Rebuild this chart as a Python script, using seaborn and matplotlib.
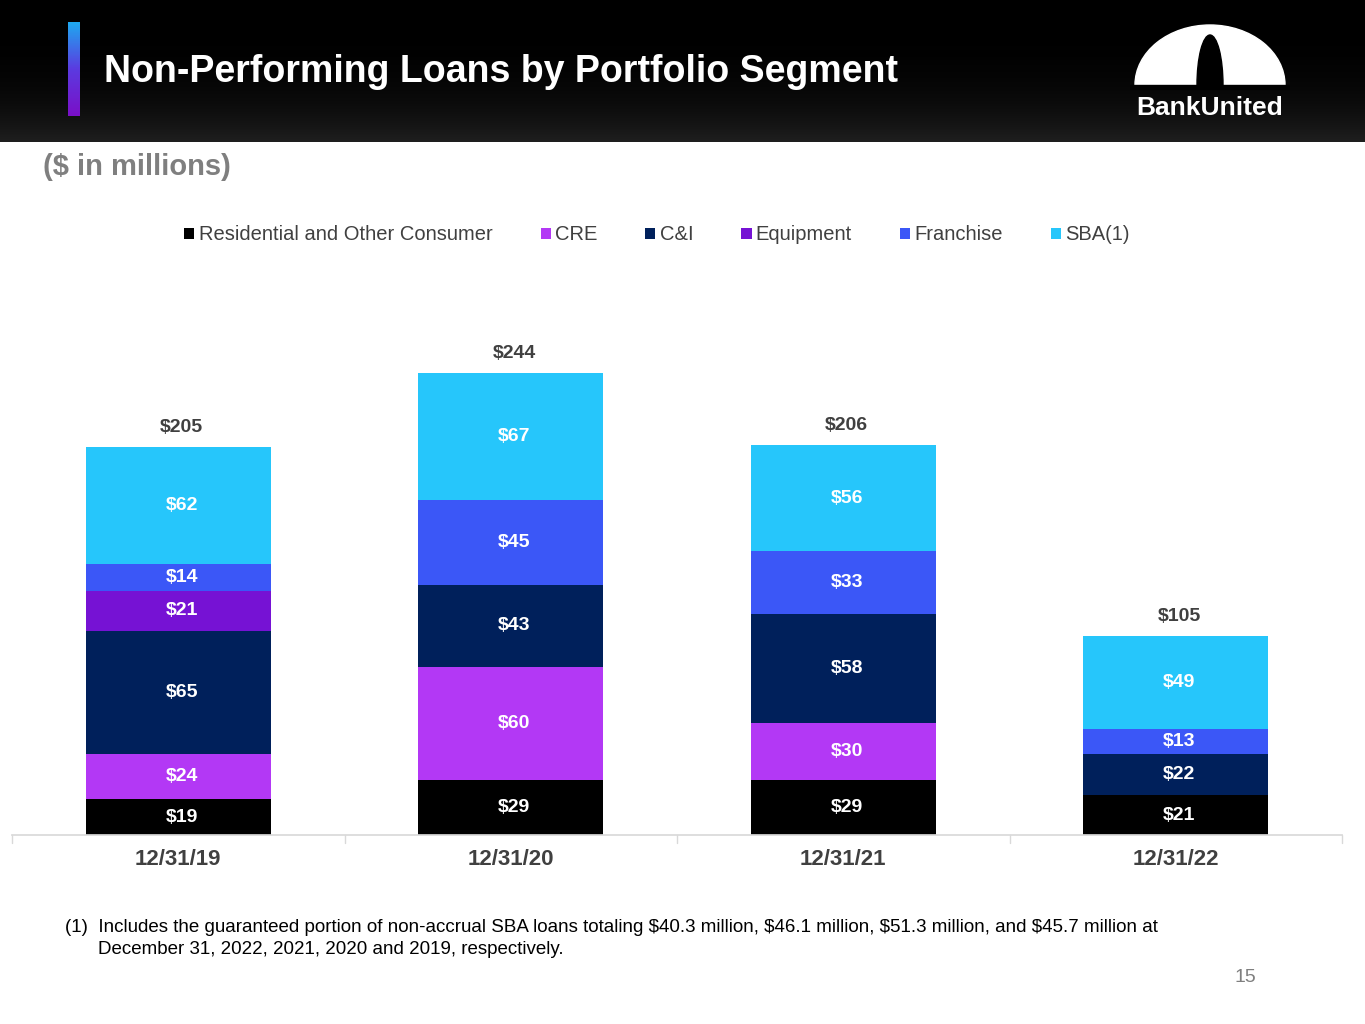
import numpy as np
import pandas as pd
import matplotlib
matplotlib.use("Agg")
import matplotlib.pyplot as plt
import seaborn as sns
from matplotlib.patches import Rectangle, Ellipse

dates = ["12/31/19", "12/31/20", "12/31/21", "12/31/22"]
segments = ["Residential and Other Consumer", "CRE", "C&I", "Equipment", "Franchise", "SBA(1)"]
residential = [19, 29, 29, 21]
cre = [24, 60, 30, 0]
c_and_i = [65, 43, 58, 22]
equipment = [21, 0, 0, 0]
franchise = [14, 45, 33, 13]
sba = [62, 67, 56, 49]
totals = ["$205", "$244", "$206", "$105"]
colors = ["#000000", "#B338F5", "#00205B", "#7612D4", "#3B57F7", "#26C6FB"]

sns.set_theme(style="white")
plt.rcParams["font.family"] = ["Liberation Sans", "DejaVu Sans"]
plt.rcParams["text.parse_math"] = False

fig = plt.figure(figsize=(13.65, 10.24), dpi=100)

# header band
hdr = fig.add_axes([0, 1 - 142 / 1024, 1, 142 / 1024])
grad = np.linspace(0, 1, 100).reshape(-1, 1) ** 3 * 0.12
hdr.imshow(np.dstack([grad, grad, grad]), aspect="auto", extent=[0, 1, 0, 1])
hdr.set_xlim(0, 1); hdr.set_ylim(0, 1); hdr.axis("off")
bar_grad = np.linspace(0, 1, 50).reshape(-1, 1)
cmap = matplotlib.colors.LinearSegmentedColormap.from_list("acc", ["#1FA8F0", "#5B3BE0", "#7A10C8"])
hdr.imshow(bar_grad, cmap=cmap, aspect="auto", extent=[68 / 1365, 80 / 1365, 26 / 142, 120 / 142], zorder=2)
hdr.text(104 / 1365, 0.49, "Non-Performing Loans by Portfolio Segment", color="white",
         fontsize=27, fontweight="bold", va="center")
# logo
logo = fig.add_axes([1130 / 1365, 1 - 90 / 1024, 160 / 1365, 70 / 1024])
logo.set_xlim(0, 160); logo.set_ylim(0, 70); logo.axis("off")
logo.add_patch(Ellipse((80, 5), 150, 120, color="white"))
logo.add_patch(Ellipse((80, 5), 26, 100, color="black"))
logo.add_patch(Rectangle((0, -10), 160, 15, color="black"))
hdr.text(1210 / 1365, 0.24, "BankUnited", color="white", fontsize=19, fontweight="bold",
         ha="center", va="center")

fig.text(43 / 1365, 1 - 167 / 1024, "($ in millions)", color="#7F7F7F", fontsize=21,
         fontweight="bold", va="center")

ax = fig.add_axes([12 / 1365, 1 - 835 / 1024, 1330 / 1365, 492 / 1024])
series = [residential, cre, c_and_i, equipment, franchise, sba]
df = pd.DataFrame({"date": dates})
bottom = np.zeros(len(dates))
for name, vals, col in zip(segments, series, colors):
    vals = np.array(vals, dtype=float)
    sns.barplot(x=df["date"], y=vals, bottom=bottom, color=col, width=0.555,
                ax=ax, saturation=1, label=name, linewidth=0)
    for i, v in enumerate(vals):
        if v > 0:
            ax.text(i + 0.01, bottom[i] + v / 2, f"${int(v)}", ha="center", va="center",
                    color="white", fontsize=14, fontweight="bold")
    bottom += vals
for i, t in enumerate(totals):
    ax.text(i + 0.01, bottom[i] + 6, t, ha="center", va="bottom", color="#404040",
            fontsize=14, fontweight="bold")
ax.set_ylim(0, 260)
ax.set_xlim(-0.5, 3.5)
ax.set_yticks([])
ax.set_xlabel(""); ax.set_ylabel("")
for s in ["top", "right", "left"]:
    ax.spines[s].set_visible(False)
ax.spines["bottom"].set_color("#D9D9D9")
ax.tick_params(axis="x", length=0, pad=10)
for x in [-0.5, 0.5, 1.5, 2.5, 3.5]:
    ax.plot([x, x], [0, -4], color="#D9D9D9", lw=1, clip_on=False)
for lab in ax.get_xticklabels():
    lab.set_fontsize(16); lab.set_fontweight("bold"); lab.set_color("#404040")
ax.legend(loc="center", bbox_to_anchor=(0.485, (835 - 235) / 492), ncol=6,
          frameon=False, fontsize=14.5, handlelength=0.5, handleheight=0.5,
          handletextpad=0.2, columnspacing=2.4, labelcolor="#404040")

fig.text(65 / 1365, 1 - 928 / 1024,
         "(1)  Includes the guaranteed portion of non-accrual SBA loans totaling $40.3 million, $46.1 million, $51.3 million, and $45.7 million at",
         fontsize=13.5, va="center", color="black")
fig.text(98 / 1365, 1 - 950 / 1024, "December 31, 2022, 2021, 2020 and 2019, respectively.",
         fontsize=13.5, va="center", color="black")
fig.text(1245 / 1365, 1 - 977 / 1024, "15", fontsize=14, color="#7F7F7F", ha="center", va="center")

fig.savefig("out.png", dpi=100)
